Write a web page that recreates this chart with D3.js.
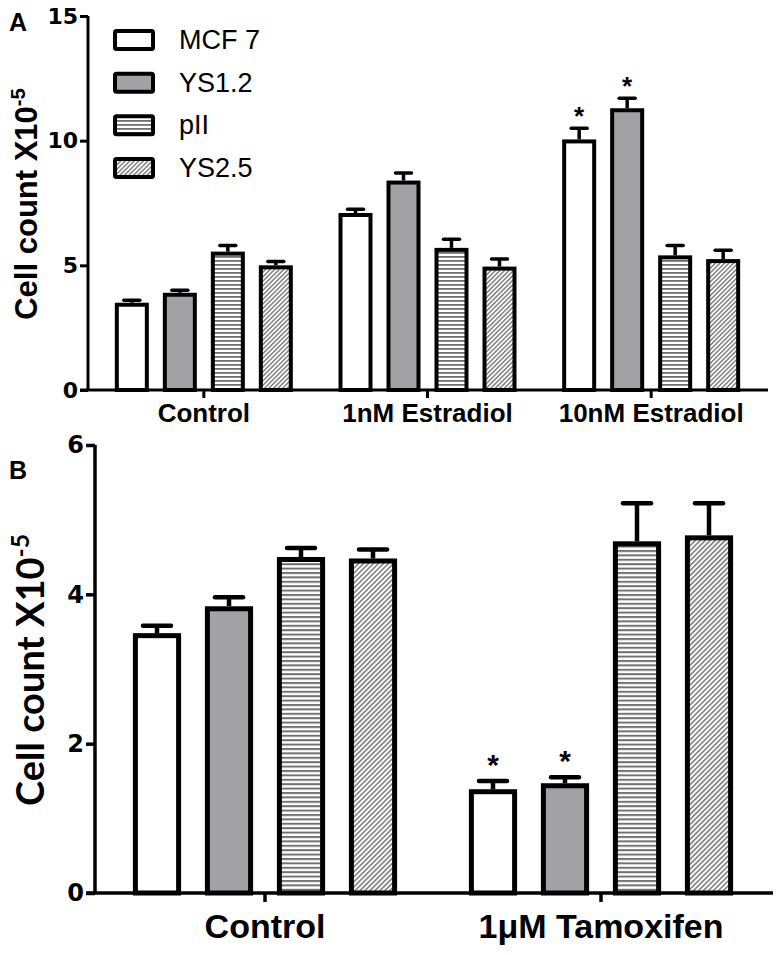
<!DOCTYPE html>
<html><head><meta charset="utf-8">
<script src="https://cdn.jsdelivr.net/npm/d3@7"></script>
<style>body{margin:0;background:#fff}svg{display:block}</style>
</head><body>
<script>
// ---- data ----
const series = ["MCF 7", "YS1.2", "pII", "YS2.5"];
const catsA = ["Control", "1nM Estradiol", "10nM Estradiol"];
const mcf7A = [3.5, 7.1, 10.05];
const ys12A = [3.9, 8.4, 11.3];
const piiA  = [5.55, 5.7, 5.4];
const ys25A = [5.0, 4.95, 5.25];
const mcf7AErr = [0.1, 0.15, 0.45];
const ys12AErr = [0.1, 0.3, 0.4];
const piiAErr  = [0.25, 0.35, 0.4];
const ys25AErr = [0.15, 0.3, 0.35];
const sigA = [[false,false,false,false],[false,false,false,false],[true,true,false,false]];
const ticksA = [0, 5, 10, 15];

const catsB = ["Control", "1\u03bcM Tamoxifen"];
const mcf7B = [3.48, 1.39];
const ys12B = [3.84, 1.47];
const piiB  = [4.5, 4.71];
const ys25B = [4.48, 4.79];
const mcf7BErr = [0.1, 0.11];
const ys12BErr = [0.12, 0.08];
const piiBErr  = [0.12, 0.51];
const ys25BErr = [0.12, 0.43];
const sigB = [[false,false,false,false],[true,true,false,false]];
const ticksB = [0, 2, 4, 6];

const W = 780, H = 955;
const ARIAL = "Liberation Sans, Arial, sans-serif";
const WIDE = "DejaVu Sans, Liberation Sans, sans-serif";
const svg = d3.select("body").append("svg").attr("width", W).attr("height", H);
const defs = svg.append("defs");

function makePatterns(id, p) {
  const h = defs.append("pattern").attr("id", "hstripe" + id).attr("patternUnits", "userSpaceOnUse")
    .attr("width", 8).attr("height", p);
  h.append("rect").attr("width", 8).attr("height", p).attr("fill", "#ffffff");
  h.append("rect").attr("y", 0).attr("width", 8).attr("height", p * 0.45).attr("fill", "#707070");
  const q = p * 0.8;
  const d = defs.append("pattern").attr("id", "diag" + id).attr("patternUnits", "userSpaceOnUse")
    .attr("width", q).attr("height", q).attr("patternTransform", "rotate(45)");
  d.append("rect").attr("width", q).attr("height", q).attr("fill", "#ffffff");
  d.append("rect").attr("width", q * 0.45).attr("height", q).attr("fill", "#7d7d7d");
}
makePatterns("", 4);
makePatterns("B", 4.4);
const fillsA = ["#ffffff", "#a2a2a6", "url(#hstripe)", "url(#diag)"];
const fillsB = ["#ffffff", "#a2a2a6", "url(#hstripeB)", "url(#diagB)"];

function panel(o) {
  const g = svg.append("g");
  const x = d3.scaleBand().domain(o.cats).range(o.xRange).paddingInner(0).paddingOuter(0);
  const xs = d3.scaleBand().domain(series).range([-o.half, o.half]).paddingInner(o.pad).paddingOuter(o.pad / 2);
  const y = d3.scaleLinear().domain(o.yDomain).range(o.yRange);
  const vals = [o.v0, o.v1, o.v2, o.v3];
  const errs = [o.e0, o.e1, o.e2, o.e3];

  o.cats.forEach((c, ci) => {
    const cx = x(c) + x.bandwidth() / 2;
    series.forEach((s, si) => {
      const v = vals[si][ci], e = errs[si][ci];
      const bx = cx + xs(s) + xs.bandwidth() / 2;
      g.append("line").attr("x1", bx).attr("x2", bx).attr("y1", y(v)).attr("y2", y(v + e))
        .attr("stroke", "#000").attr("stroke-width", o.ew);
      g.append("line").attr("x1", bx - o.cap / 2).attr("x2", bx + o.cap / 2).attr("y1", y(v + e)).attr("y2", y(v + e))
        .attr("stroke", "#000").attr("stroke-width", o.ew).attr("stroke-linecap", "round");
      g.append("rect").attr("x", cx + xs(s)).attr("width", xs.bandwidth())
        .attr("y", y(v) + o.sw / 2).attr("height", y(0) - y(v) - o.sw / 2)
        .attr("fill", o.fills[si]).attr("stroke", "#000").attr("stroke-width", o.sw);
      if (o.sig[ci][si]) {
        g.append("text").attr("x", bx).attr("y", y(v + e) - o.starOff).attr("text-anchor", "middle")
          .attr("font-family", ARIAL).attr("font-weight", "bold")
          .attr("font-size", o.starSize).text("*");
      }
    });
  });

  // y axis
  const yAxis = d3.axisLeft(y).tickValues(o.ticks).tickFormat(d3.format("d"))
    .tickSize(o.tick).tickSizeOuter(0).tickPadding(o.yPad);
  const ya = g.append("g").attr("transform", `translate(${o.xRange[0] - o.axOff},0)`).call(yAxis);
  ya.select(".domain").attr("stroke-width", o.aw).attr("d", `M0,${o.yRange[0]}V${o.yRange[1]}`);
  ya.selectAll(".tick line").attr("stroke-width", o.aw);
  ya.selectAll("text").attr("font-family", WIDE).attr("font-weight", "bold")
    .attr("font-size", o.tickFont).attr("fill", "#000");

  // x axis
  const xAxis = d3.axisBottom(x).tickSize(o.tick).tickSizeOuter(0).tickPadding(o.xPad);
  const xa = g.append("g").attr("transform", `translate(0,${o.yRange[0]})`).call(xAxis);
  xa.select(".domain").attr("stroke-width", o.aw).attr("d", `M${o.xRange[0] - o.axOff - o.tick},0H${o.xEnd}`);
  xa.selectAll(".tick line").attr("stroke-width", o.aw);
  xa.selectAll("text").attr("font-family", ARIAL).attr("font-weight", "bold")
    .attr("font-size", o.catFont).attr("fill", "#000");

  // y label
  const lab = g.append("text").attr("transform", `translate(${o.labX},${o.labY}) rotate(-90)`)
    .attr("text-anchor", "middle").attr("font-family", o.labFamily).attr("font-weight", "bold")
    .attr("font-size", o.labFont).attr("fill", "#000");
  lab.append("tspan").text("Cell count X10");
  lab.append("tspan").attr("dy", -o.labFont * 0.4).attr("font-size", o.labFont * 0.65).text("-5");

  g.append("text").attr("x", o.letterX).attr("y", o.letterY).attr("font-family", ARIAL)
    .attr("font-weight", "bold").attr("font-size", 25).text(o.letter);
  return g;
}

panel({
  cats: catsA, xRange: [92, 763], half: 96, pad: 0.375, yDomain: [0, 15], yRange: [390, 16],
  v0: mcf7A, v1: ys12A, v2: piiA, v3: ys25A, e0: mcf7AErr, e1: ys12AErr, e2: piiAErr, e3: ys25AErr,
  sig: sigA, ticks: ticksA, fills: fillsA, sw: 4, ew: 3.5, cap: 16, tick: 8, aw: 3, axOff: 4,
  xEnd: 768, tickFont: 22, yPad: 2, catFont: 26, xPad: 6, starSize: 26, starOff: 3,
  labX: 37, labY: 204, labFont: 31, labFamily: ARIAL,
  letter: "A", letterX: 9, letterY: 31
});

panel({
  cats: catsB, xRange: [97, 769], half: 144, pad: 0.4, yDomain: [0, 6], yRange: [893, 445],
  v0: mcf7B, v1: ys12B, v2: piiB, v3: ys25B, e0: mcf7BErr, e1: ys12BErr, e2: piiBErr, e3: ys25BErr,
  sig: sigB, ticks: ticksB, fills: fillsB, sw: 5, ew: 4.5, cap: 28, tick: 9, aw: 3.5, axOff: 2,
  xEnd: 773, tickFont: 24, yPad: 2, catFont: 34, xPad: 12, starSize: 30, starOff: 6,
  labX: 44, labY: 670, labFont: 38, labFamily: "Lato, Liberation Sans, sans-serif",
  letter: "B", letterX: 9, letterY: 479
});

// legend (panel A)
const leg = svg.append("g");
const ly = d3.scalePoint().domain(series).range([40, 168]);
series.forEach((s, i) => {
  leg.append("rect").attr("x", 115).attr("y", ly(s) - 9).attr("width", 38).attr("height", 18)
    .attr("fill", fillsA[i]).attr("stroke", "#000").attr("stroke-width", 4).attr("rx", 1.5);
  leg.append("text").attr("x", 179).attr("y", ly(s) + 9).attr("font-family", ARIAL)
    .attr("font-size", 27).attr("fill", "#000").text(s);
});
</script>
</body></html>
